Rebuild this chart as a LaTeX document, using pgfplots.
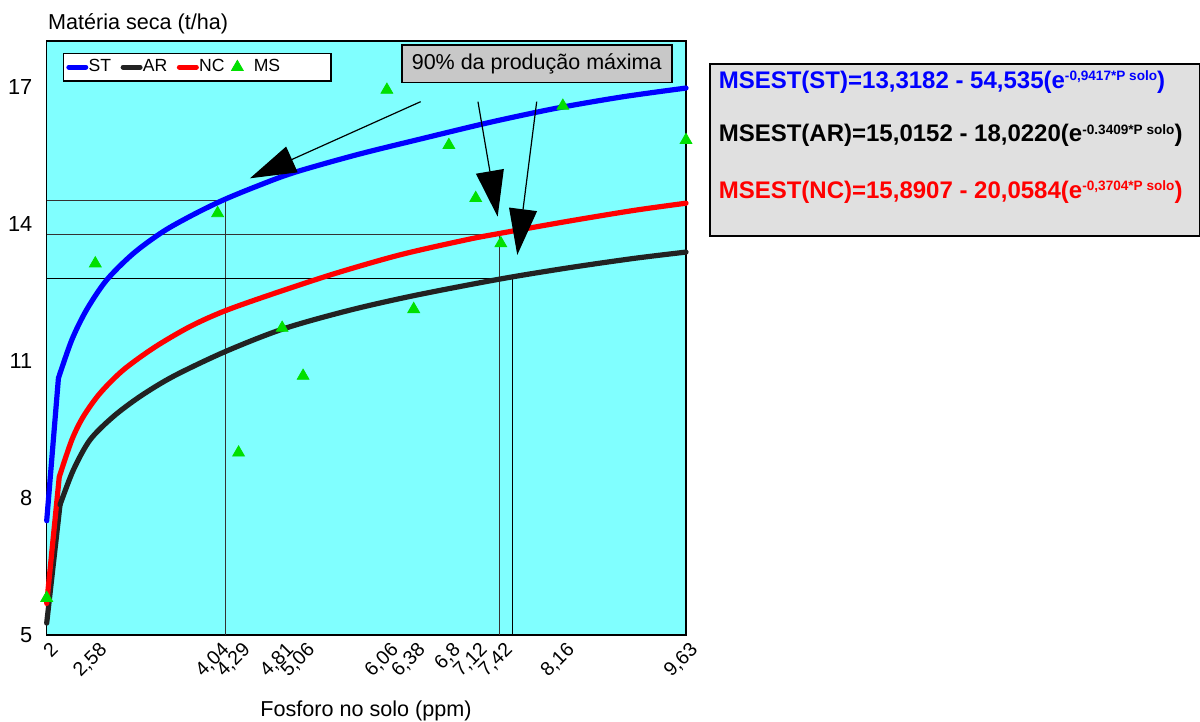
\documentclass[border=0pt]{standalone}
\usepackage{pgfplots}
\pgfplotsset{compat=1.18}
\usepackage{fontspec}
\setmainfont{Liberation Sans}
\usetikzlibrary{arrows.meta}
\definecolor{bgc}{RGB}{128,255,255}
\definecolor{mkgreen}{RGB}{0,224,0}
\definecolor{boxgray}{RGB}{200,200,200}
\definecolor{eqgray}{RGB}{224,224,224}
\definecolor{arblack}{RGB}{34,34,34}
\newcommand{\sups}[1]{\raisebox{3.8pt}{\fontsize{6.8}{8}\selectfont #1}}
\pgfplotsset{mslegend/.style={legend image code/.code={\path (0pt,0pt) (10.5pt,0pt); \draw[##1] plot coordinates {(2.5pt,0pt)};}}}
\begin{document}
\begin{tikzpicture}
\useasboundingbox (0,0) rectangle (600pt,361pt);
\begin{axis}[
  scale only axis, width=319.65pt, height=297pt,
  at={(23.35pt,43.5pt)}, anchor=south west,
  xmin=2, xmax=9.63, ymin=5, ymax=18,
  axis background/.style={fill=bgc},
  axis line style={line width=0.75pt, black},
  xtick={2,2.58,4.04,4.29,4.81,5.06,6.06,6.38,6.8,7.12,7.42,8.16,9.63},
  xticklabels={2,{2,58},{4,04},{4,29},{4,81},{5,06},{6,06},{6,38},{6,8},{7,12},{7,42},{8,16},{9,63}},
  ytick={5,8,11,14,17},
  major tick length=0pt,
  /pgf/number format/assume math mode=true,
  yticklabel style={font=\fontsize{10.9}{12}\selectfont, inner sep=0pt, xshift=-7pt},
  xticklabel style={font=\fontsize{9.8}{11}\selectfont, rotate=45, anchor=north east, inner sep=1pt, yshift=-2pt},
  clip=false,
  legend style={draw=none, fill=none, at={(0.026,0.956)}, anchor=west,
    legend columns=4, font=\fontsize{8.8}{10}\selectfont, inner sep=0pt,
    nodes={inner sep=0pt},
    /tikz/every even column/.append style={column sep=3.5pt}},
  legend image code/.code={\path (0pt,0pt) (9.8pt,0pt); \draw[#1, line cap=round] (1.3pt,0pt) -- (9.7pt,0pt);},
]
% legend frame
\draw[line width=0.6pt, fill=white] (rel axis cs:0.026,0.979) rectangle (rel axis cs:0.4447,0.9327);
% reference lines
\draw[black!80, line width=0.5pt] (axis cs:2,14.52) -- (axis cs:4.13,14.52) -- (axis cs:4.13,5);
\draw[black!80, line width=0.5pt] (axis cs:2,13.77) -- (axis cs:7.40,13.77) -- (axis cs:7.40,5);
\draw[black, line width=0.5pt] (axis cs:2,12.80) -- (axis cs:7.56,12.80) -- (axis cs:7.56,5);

% steep initial segments
\addplot[blue, line width=2.6pt, line cap=round, forget plot] coordinates {(2,7.50) (2.14,10.62)};
\addplot[arblack, line width=2.6pt, line cap=round, forget plot] coordinates {(2,5.26) (2.159,7.85)};
\addplot[red, line width=2.6pt, line cap=round, forget plot] coordinates {(2,5.69) (2.15,8.46)};

\addplot[blue, line width=2.6pt, line join=round, line cap=round, smooth, tension=0.5] coordinates {
 (2.14,10.62) (2.30,11.46) (2.477,12.12) (2.716,12.77) (3.034,13.35) (3.39,13.83)
 (3.75,14.20) (4.108,14.52) (4.506,14.82) (4.95,15.12) (5.70,15.51) (6.495,15.87)
 (7.29,16.22) (8.087,16.53) (8.88,16.78) (9.63,16.97)};
\addlegendentry{ST}
\addplot[arblack, line width=2.6pt, line join=round, line cap=round, smooth, tension=0.5] coordinates {
 (2.159,7.85) (2.318,8.61) (2.517,9.27) (2.795,9.78) (3.114,10.22) (3.51,10.66)
 (4.128,11.20) (4.824,11.70) (5.62,12.11) (6.416,12.44) (7.41,12.79) (8.206,13.03)
 (9.0,13.24) (9.63,13.38)};
\addlegendentry{AR}
\addplot[red, line width=2.6pt, line join=round, line cap=round, smooth, tension=0.5] coordinates {
 (2.15,8.46) (2.30,9.27) (2.437,9.78) (2.636,10.29) (2.914,10.80) (3.29,11.30)
 (3.71,11.75) (4.108,12.08) (4.626,12.42) (5.42,12.90) (6.217,13.32) (7.01,13.65)
 (7.41,13.79) (8.206,14.05) (9.0,14.29) (9.63,14.45)};
\addlegendentry{NC}
\addplot[only marks, mark=triangle*, mark size=3.4pt, mkgreen, mslegend] coordinates {
 (2,5.81) (2.58,13.13) (4.04,14.23) (4.29,8.99) (4.81,11.72) (5.06,10.67)
 (6.06,16.93) (6.38,12.13) (6.8,15.72) (7.12,14.56) (7.42,13.57) (8.16,16.58)
 (9.63,15.83)};
\addlegendentry{MS}

% arrows
\draw[line width=0.6pt, -{Triangle[length=23pt,width=14pt]}] (axis cs:6.463,16.672) -- (axis cs:4.426,14.995);
\draw[line width=0.6pt, -{Triangle[length=23pt,width=14pt]}] (axis cs:7.147,16.672) -- (axis cs:7.382,14.155);
\draw[line width=0.6pt, -{Triangle[length=23pt,width=14pt]}] (axis cs:7.848,16.672) -- (axis cs:7.616,13.317);
\node[draw=black, fill=boxgray, line width=0.8pt, minimum width=135pt, minimum height=18.85pt,
  inner sep=0pt, font=\fontsize{10.75}{12}\selectfont] at (axis cs:7.848,17.50) {90\% da produção máxima};
\end{axis}
% axis titles
\node[anchor=base west, inner sep=0pt, font=\fontsize{10.8}{12}\selectfont] at (23.85pt,346.3pt) {Matéria seca (t/ha)};
\node[anchor=base, inner sep=0pt, font=\fontsize{10.8}{12}\selectfont] at (183pt,2.7pt) {Fosforo no solo (ppm)};
% equations box
\node[draw=black, fill=eqgray, line width=0.8pt, minimum width=245pt, minimum height=85.85pt,
  anchor=north west, inner sep=0pt] at (354.5pt,329.35pt) {};
\node[anchor=base west, inner sep=0pt, font=\fontsize{12}{14}\selectfont\bfseries, text=blue] at (359.2pt,316.85pt)
  {MSEST(ST)=13,3182 - 54,535(e\sups{-0,9417*P solo})};
\node[anchor=base west, inner sep=0pt, font=\fontsize{12}{14}\selectfont\bfseries, text=black] at (359.2pt,290.15pt)
  {MSEST(AR)=15,0152 - 18,0220(e\sups{-0.3409*P solo})};
\node[anchor=base west, inner sep=0pt, font=\fontsize{12}{14}\selectfont\bfseries, text=red] at (359.2pt,261.85pt)
  {MSEST(NC)=15,8907 - 20,0584(e\sups{-0,3704*P solo})};
\end{tikzpicture}
\end{document}
